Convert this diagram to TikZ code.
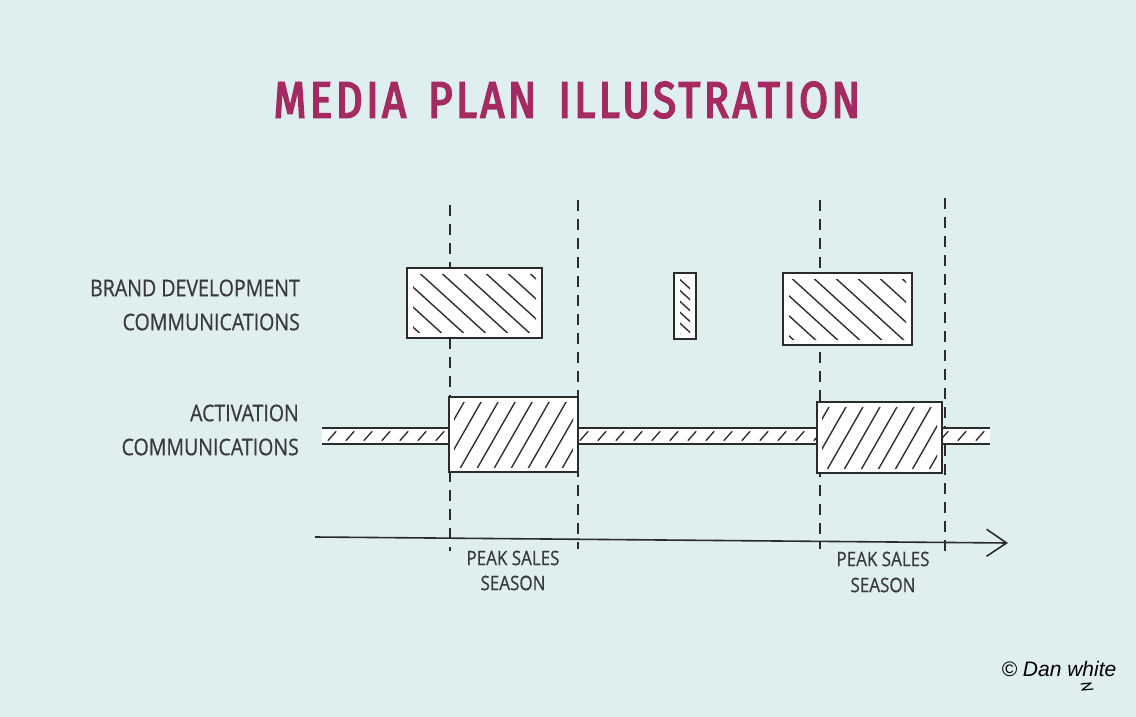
\documentclass[tikz,border=0pt]{standalone}
\usepackage{fontspec}
\usetikzlibrary{arrows.meta}
\newfontfamily\labelfont[FakeStretch=0.85,FakeBold=0.6]{Open Sans}
\newfontfamily\titlefont[LetterSpace=7,FakeStretch=0.82,FakeBold=3.5]{Fira Sans}
\newfontfamily\signfont{Liberation Sans}
\definecolor{bg}{HTML}{DFEEEF}
\definecolor{titlec}{HTML}{A52A62}
\definecolor{ink}{HTML}{2B2B2B}
\definecolor{textc}{HTML}{3A3A3A}
\tikzset{
  hatchline/.style={draw=ink, line width=1.35pt, line cap=round},
  boxstyle/.style={draw=ink, fill=white, line width=2pt, inner sep=0pt, outer sep=0pt},
  hatchback/.style={path picture={
    \clip ([shift={(6pt,6pt)}]path picture bounding box.south west) rectangle ([shift={(-6pt,-6pt)}]path picture bounding box.north east);
    \foreach \k in {-16,...,16}{\draw[hatchline] ([xshift=\k*#1]path picture bounding box.center) ++(-66pt,60pt) -- ++(132pt,-120pt);}
  }},
  hatchfwd/.style={path picture={
    \clip ([shift={(5pt,5pt)}]path picture bounding box.south west) rectangle ([shift={(-5pt,-5pt)}]path picture bounding box.north east);
    \foreach \k in {-12,...,12}{\draw[hatchline] ([xshift=\k*#1]path picture bounding box.center) ++(-40pt,-70pt) -- ++(80pt,140pt);}
  }},
  bandhatch/.style={path picture={
    \foreach \k in {-19,...,19}{\draw[hatchline] ([xshift=\k*18pt]path picture bounding box.center) ++(-4pt,-4.5pt) -- ++(8pt,9pt);}
  }},
  dashline/.style={draw=ink, line width=1.3pt, dash pattern=on 11pt off 8pt},
  lbl/.style={text=textc, inner sep=0pt, font={\labelfont\fontsize{23}{23}\selectfont}},
  seas/.style={text=textc, inner sep=0pt, font={\labelfont\fontsize{20}{20}\selectfont}},
}
\begin{document}
\begin{tikzpicture}[x=1pt,y=-1pt]
\fill[bg] (0,0) rectangle (1136,717);
\useasboundingbox (0,0) rectangle (1136,717);

% title
\node[text=titlec, inner sep=0pt, font={\titlefont\fontsize{51}{51}\selectfont}] (title) at (567,100) {MEDIA\hspace{22pt}PLAN\hspace{22pt}ILLUSTRATION};

% row labels
\node[lbl, anchor=east] (l1) at (300,288) {BRAND DEVELOPMENT};
\node[lbl, anchor=east] (l2) at (300,322) {COMMUNICATIONS};
\node[lbl, anchor=east] (l3) at (299,413) {ACTIVATION};
\node[lbl, anchor=east] (l4) at (299,447) {COMMUNICATIONS};

% dashed season lines
\coordinate (d1t) at (450,205); \coordinate (d1b) at (450,551);
\coordinate (d2t) at (578,200); \coordinate (d2b) at (578,549);
\coordinate (d3t) at (820,200); \coordinate (d3b) at (820,549);
\coordinate (d4t) at (945,198); \coordinate (d4b) at (945,552);
\draw[dashline] (d1t) -- (d1b);
\draw[dashline] (d2t) -- (d2b);
\draw[dashline] (d3t) -- (d3b);
\draw[dashline] (d4t) -- (d4b);

% brand development boxes
\node[boxstyle, hatchback=22pt, minimum width=135pt, minimum height=70pt] (b1) at (474.5,303) {};
\node[boxstyle, hatchback=12pt, minimum width=22pt, minimum height=66pt] (b2) at (685,306) {};
\node[boxstyle, hatchback=22pt, minimum width=129pt, minimum height=72pt] (b3) at (847.5,309) {};

% activation band
\node[fill=white, draw=none, bandhatch, inner sep=0pt, outer sep=0pt, minimum width=668pt, minimum height=16pt] (band) at (656,436) {};
\draw[draw=ink, line width=2pt] (band.north west) -- (band.north east);
\draw[draw=ink, line width=2pt] (band.south west) -- (band.south east);

% activation boxes
\node[boxstyle, hatchfwd=17pt, minimum width=129pt, minimum height=75pt] (a1) at (513.5,434.5) {};
\node[boxstyle, hatchfwd=17pt, minimum width=125pt, minimum height=71pt] (a2) at (879.5,437.5) {};

% time axis
\coordinate (ax0) at (315,537);
\coordinate (ax1) at (1008,543);
\draw[draw=ink, line width=1.6pt, -{Straight Barb[length=20pt,width=27pt,line width=1.6pt]}] (ax0) -- (ax1);

% season labels
\node[seas] (p1) at (513,558) {PEAK SALES};
\node[seas] (s1) at (513,583) {SEASON};
\node[seas] (p2) at (883,559) {PEAK SALES};
\node[seas] (s2) at (883,585) {SEASON};

% signature
\node[text=black, inner sep=0pt, font={\signfont\itshape\fontsize{21}{21}\selectfont}] (sig) at (1059,669) {© Dan white};
\draw[draw=black, line width=1.2pt, line cap=round, line join=round] (1081,684) -- (1091,683) -- (1082,690) -- (1093,689);
\end{tikzpicture}
\end{document}
